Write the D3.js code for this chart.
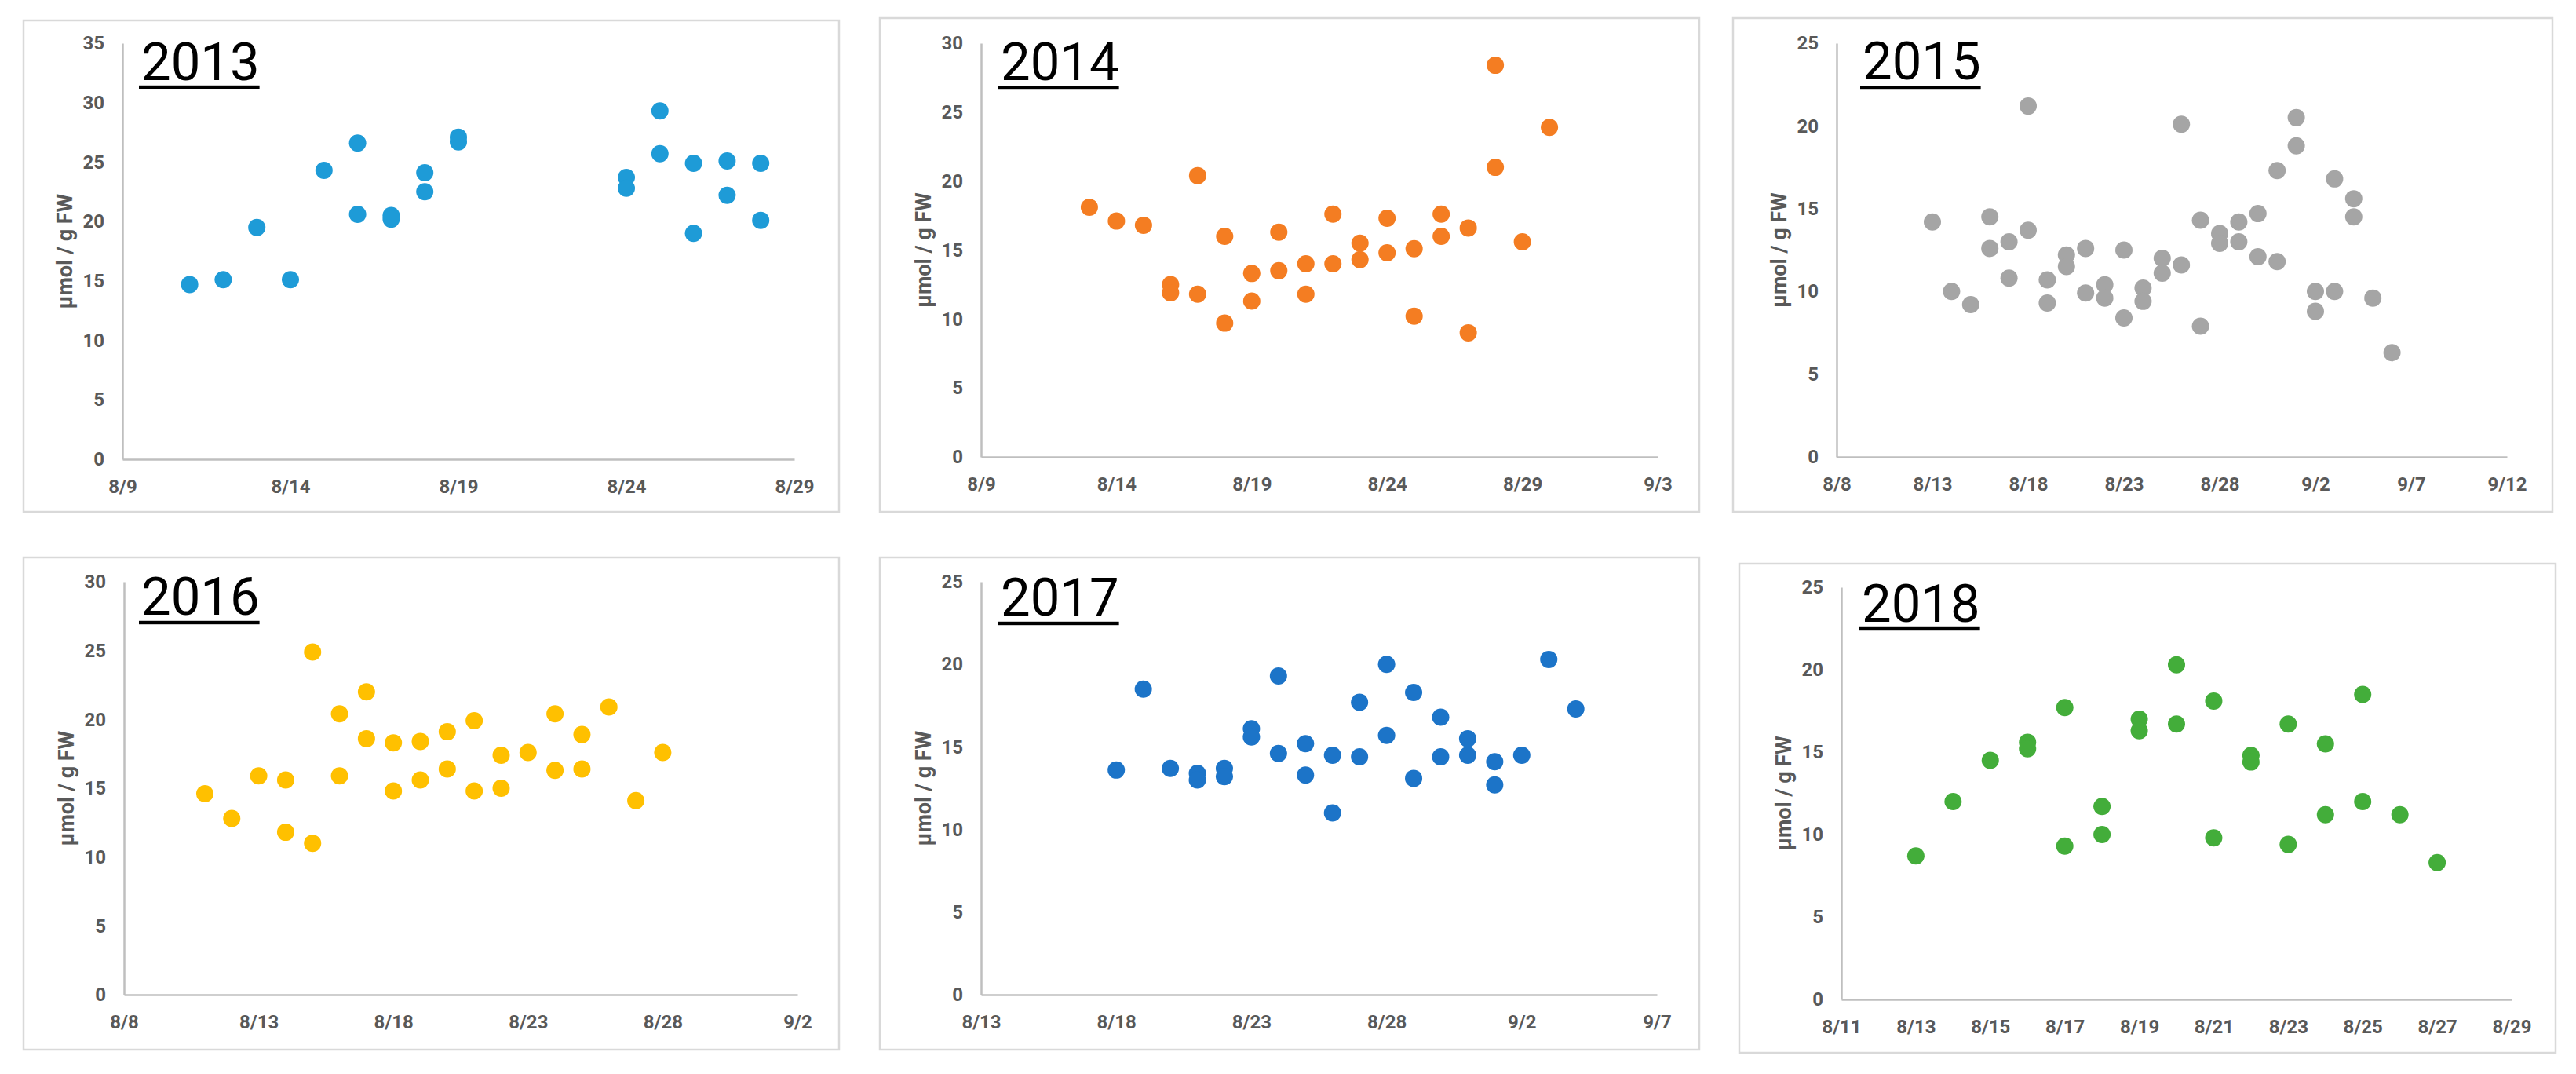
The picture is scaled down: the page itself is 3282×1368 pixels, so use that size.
<!DOCTYPE html>
<html><head><meta charset="utf-8">
<script src="https://cdn.jsdelivr.net/npm/d3@7"></script>
<style>body{margin:0;background:#fff}</style>
</head><body>
<svg id="c" width="3282" height="1368" xmlns="http://www.w3.org/2000/svg"></svg>
<script>
// ---------- data ----------
const years = ["2013","2014","2015","2016","2017","2018"];

const dates2013 = ["8/11","8/12","8/13","8/14","8/15","8/16","8/16","8/17","8/17","8/18","8/18","8/19","8/19","8/24","8/24","8/25","8/25","8/26","8/26","8/27","8/27","8/28","8/28"];
const vals2013  = [14.7,15.1,19.5,15.1,24.3,26.6,20.6,20.5,20.2,24.1,22.5,27.1,26.7,23.7,22.8,29.3,25.7,24.9,19.0,25.1,22.2,24.9,20.1];

const dates2014 = ["8/13","8/14","8/15","8/16","8/16","8/17","8/17","8/18","8/18","8/19","8/19","8/20","8/20","8/21","8/21","8/22","8/22","8/23","8/23","8/24","8/24","8/25","8/25","8/26","8/26","8/27","8/27","8/28","8/28","8/29","8/30"];
const vals2014  = [18.1,17.1,16.8,12.5,11.9,20.4,11.8,16.0,9.7,13.3,11.3,16.3,13.5,14.0,11.8,17.6,14.0,15.5,14.3,17.3,14.8,15.1,10.2,17.6,16.0,16.6,9.0,28.4,21.0,15.6,23.9];

const dates2015 = ["8/13","8/14","8/15","8/16","8/16","8/17","8/17","8/18","8/18","8/19","8/19","8/20","8/20","8/21","8/21","8/22","8/22","8/23","8/23","8/24","8/24","8/25","8/25","8/26","8/26","8/27","8/27","8/28","8/28","8/29","8/29","8/30","8/30","8/31","8/31","9/1","9/1","9/2","9/2","9/3","9/3","9/4","9/4","9/5","9/6"];
const vals2015  = [14.2,10.0,9.2,14.5,12.6,13.0,10.8,21.2,13.7,10.7,9.3,12.2,11.5,12.6,9.9,10.4,9.6,12.5,8.4,10.2,9.4,12.0,11.1,20.1,11.6,14.3,7.9,13.5,12.9,14.2,13.0,14.7,12.1,17.3,11.8,20.5,18.8,10.0,8.8,16.8,10.0,15.6,14.5,9.6,6.3];

const dates2016 = ["8/11","8/12","8/13","8/14","8/14","8/15","8/15","8/16","8/16","8/17","8/17","8/18","8/18","8/19","8/19","8/20","8/20","8/21","8/21","8/22","8/22","8/23","8/24","8/24","8/25","8/25","8/26","8/27","8/28"];
const vals2016  = [14.6,12.8,15.9,15.6,11.8,24.9,11.0,20.4,15.9,22.0,18.6,18.3,14.8,18.4,15.6,19.1,16.4,19.9,14.8,17.4,15.0,17.6,20.4,16.3,18.9,16.4,20.9,14.1,17.6];

const dates2017 = ["8/18","8/19","8/20","8/21","8/21","8/22","8/22","8/23","8/23","8/24","8/24","8/25","8/25","8/26","8/26","8/27","8/27","8/28","8/28","8/29","8/29","8/30","8/30","8/31","8/31","9/1","9/1","9/2","9/3","9/4"];
const vals2017  = [13.6,18.5,13.7,13.4,13.0,13.7,13.2,16.1,15.6,19.3,14.6,15.2,13.3,14.5,11.0,17.7,14.4,20.0,15.7,18.3,13.1,16.8,14.4,15.5,14.5,14.1,12.7,14.5,20.3,17.3];

const dates2018 = ["8/13","8/14","8/15","8/16","8/16","8/17","8/17","8/18","8/18","8/19","8/19","8/20","8/20","8/21","8/21","8/22","8/22","8/23","8/23","8/24","8/24","8/25","8/25","8/26","8/27"];
const vals2018  = [8.7,12.0,14.5,15.6,15.2,17.7,9.3,11.7,10.0,17.0,16.3,20.3,16.7,18.1,9.8,14.8,14.4,16.7,9.4,15.5,11.2,18.5,12.0,11.2,8.3];

const xt2013 = ["8/9","8/14","8/19","8/24","8/29"];
const xt2014 = ["8/9","8/14","8/19","8/24","8/29","9/3"];
const xt2015 = ["8/8","8/13","8/18","8/23","8/28","9/2","9/7","9/12"];
const xt2016 = ["8/8","8/13","8/18","8/23","8/28","9/2"];
const xt2017 = ["8/13","8/18","8/23","8/28","9/2","9/7"];
const xt2018 = ["8/11","8/13","8/15","8/17","8/19","8/21","8/23","8/25","8/27","8/29"];

const yt2013 = [0,5,10,15,20,25,30,35];
const yt2014 = [0,5,10,15,20,25,30];
const yt2015 = [0,5,10,15,20,25];
const yt2016 = [0,5,10,15,20,25,30];
const yt2017 = [0,5,10,15,20,25];
const yt2018 = [0,5,10,15,20,25];

const yLabel = "µmol / g FW";

// ---------- styles / layout ----------
const colors = ["#1E9BD7","#F47D22","#A5A5A5","#FFC000","#1C74C8","#43AD3A"];
const layout = [
  {box:[30,26,1069,652],    plot:[156,55,1012,585],   title:[180,102,111]},
  {box:[1121,23,2165,652],  plot:[1250,55,2112,582],  title:[1275,102,112]},
  {box:[2208,23,3252,652],  plot:[2340,55,3194,582],  title:[2373,101,112]},
  {box:[30,710,1069,1337],  plot:[158,741,1016,1267], title:[180,783,793]},
  {box:[1121,710,2165,1337],plot:[1250,741,2111,1267],title:[1275,784,794]},
  {box:[2216,718,3256,1341],plot:[2346,748,3200,1273],title:[2372,792,801]}
];

const series = [
  {dates:dates2013, vals:vals2013, xt:xt2013, yt:yt2013},
  {dates:dates2014, vals:vals2014, xt:xt2014, yt:yt2014},
  {dates:dates2015, vals:vals2015, xt:xt2015, yt:yt2015},
  {dates:dates2016, vals:vals2016, xt:xt2016, yt:yt2016},
  {dates:dates2017, vals:vals2017, xt:xt2017, yt:yt2017},
  {dates:dates2018, vals:vals2018, xt:xt2018, yt:yt2018}
];

function md(s){ const p = s.split("/").map(Number); return new Date(2000, p[0]-1, p[1]); }

const svg = d3.select("#c");
svg.append("rect").attr("width",3282).attr("height",1368).attr("fill","#fff");

const FONT = "Roboto, 'Noto Sans', 'DejaVu Sans', sans-serif";

series.forEach((s, i) => {
  const L = layout[i];
  const [l,t,r,b] = L.plot;
  const g = svg.append("g");

  // panel border
  g.append("rect")
    .attr("x", L.box[0]).attr("y", L.box[1])
    .attr("width", L.box[2]-L.box[0]).attr("height", L.box[3]-L.box[1])
    .attr("fill","#fff").attr("stroke","#d9d9d9").attr("stroke-width",2.5);

  const x = d3.scaleTime().domain([md(s.xt[0]), md(s.xt[s.xt.length-1])]).range([l,r]);
  const y = d3.scaleLinear().domain([0, s.yt[s.yt.length-1]]).range([b,t]);

  const xa = g.append("g").attr("transform",`translate(0,${b})`)
    .call(d3.axisBottom(x).tickValues(s.xt.map(md)).tickFormat((d,k)=>s.xt[k])
      .tickSize(0).tickPadding(26));
  const ya = g.append("g").attr("transform",`translate(${l},0)`)
    .call(d3.axisLeft(y).tickValues(s.yt).tickFormat(d3.format("d"))
      .tickSize(0).tickPadding(23));

  [xa, ya].forEach(a => {
    a.select(".domain").attr("stroke","#bfbfbf").attr("stroke-width",2.5);
    a.selectAll("text").attr("font-family",FONT).attr("font-size",24)
      .attr("font-weight",700).attr("fill","#595959");
  });

  // y-axis title
  g.append("text")
    .attr("transform",`translate(${l-64},${(t+b)/2}) rotate(-90)`)
    .attr("text-anchor","middle")
    .attr("font-family",FONT).attr("font-size",27).attr("font-weight",700)
    .attr("fill","#595959")
    .text(yLabel);

  // points
  g.append("g").selectAll("circle")
    .data(s.dates.map((d,k)=>({d:md(d), v:s.vals[k]})))
    .join("circle")
    .attr("cx", d=>x(d.d)).attr("cy", d=>y(d.v)).attr("r",11)
    .attr("fill", colors[i]);

  // title with underline
  const tt = g.append("text")
    .attr("x", L.title[0]).attr("y", L.title[1])
    .attr("font-family",FONT).attr("font-size",67).attr("fill","#000")
    .text(years[i]);
  const w = tt.node().getComputedTextLength();
  g.append("rect")
    .attr("x", L.title[0]-3).attr("y", L.title[2]-2.2)
    .attr("width", w+3).attr("height",4.4).attr("fill","#000");
});
</script>
</body></html>
